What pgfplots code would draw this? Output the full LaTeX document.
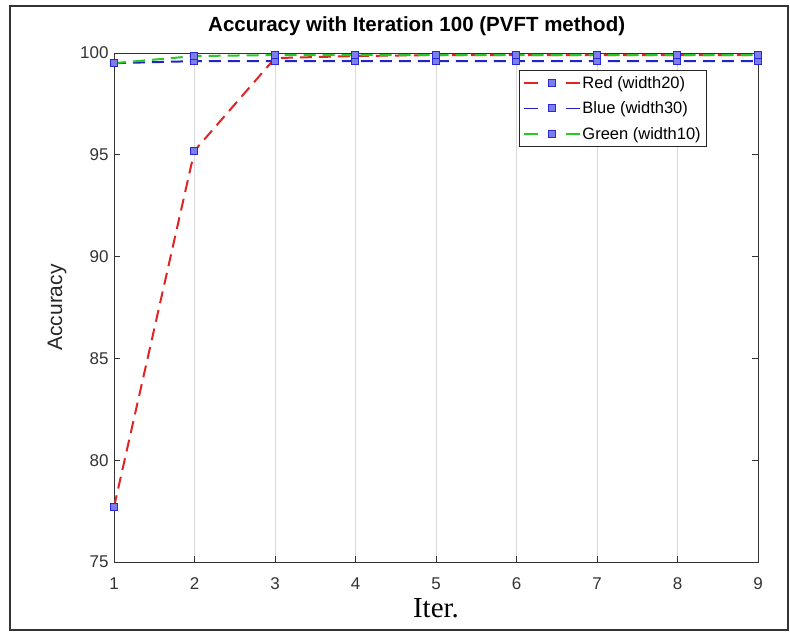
\documentclass[border=0pt]{standalone}
\usepackage{pgfplots}
\pgfplotsset{compat=1.18}
\usepackage{fontspec}
\setmainfont{Liberation Sans}
\newfontfamily\seriffont{Liberation Serif}
\definecolor{mred}{RGB}{225,35,35}
\definecolor{mblue}{RGB}{35,35,200}
\definecolor{mgreen}{RGB}{40,200,40}
\definecolor{mark}{RGB}{40,40,220}
\begin{document}
\begin{tikzpicture}
\begin{axis}[
  scale only axis,
  width=644pt, height=509pt,
  xmin=1, xmax=9, ymin=75, ymax=100,
  xtick={1,...,9}, ytick={75,80,...,100},
  xmajorgrids, grid style={black!15, line width=0.6pt},
  axis line style={black!80, line width=0.8pt},
  tick style={black!80, line width=0.8pt},
  tick align=inside, major tick length=6pt,
  clip=false,
  /pgf/number format/assume math mode=true,
  tick label style={font=\fontsize{17}{20}\selectfont, text=black!80},
  x tick label style={anchor=center, yshift=-22pt},
  y tick label style={xshift=-2pt},
  title={Accuracy with Iteration 100 (PVFT method)},
  title style={font=\fontsize{20.5}{24}\selectfont\bfseries, at={(axis description cs:0.47,1.04)}, anchor=center},
  xlabel={Iter.},
  xlabel style={font=\fontsize{29}{32}\selectfont\seriffont, at={(axis description cs:0.5,-0.09)}, anchor=center},
  ylabel={Accuracy},
  ylabel style={font=\fontsize{21}{24}\selectfont, text=black!85, at={(axis description cs:-0.0885,0.5)}, anchor=center},
  legend style={at={(axis description cs:0.921,0.967)}, anchor=north east,
    font=\fontsize{16.5}{19}\selectfont, draw=black!85, line width=0.8pt,
    row sep=8pt, inner xsep=4pt, inner ysep=4pt},
  legend cell align=left,
  legend image code/.code={\draw[mark repeat=2, mark phase=2, line width=1.5pt, dash pattern=on 14pt off 28pt] plot coordinates {(0pt,0pt) (28pt,0pt) (56pt,0pt)};},
  mystyle/.style={line width=2pt, dash pattern=on 12pt off 7pt,
    mark=square*, mark size=3.5pt, mark options={solid, draw=mark, fill=mark!60, line width=1pt}},
]
\addplot[mred, mystyle] coordinates {(1,77.7) (2,95.2) (3,99.75) (4,99.85) (5,99.9) (6,99.9) (7,99.9) (8,99.9) (9,99.9)};
\addlegendentry{Red (width20)}
\addplot[mblue, mystyle] coordinates {(1,99.5) (2,99.6) (3,99.6) (4,99.6) (5,99.6) (6,99.6) (7,99.6) (8,99.6) (9,99.6)};
\addlegendentry{Blue (width30)}
\addplot[mgreen, mystyle] coordinates {(1,99.5) (2,99.85) (3,99.9) (4,99.9) (5,99.9) (6,99.9) (7,99.9) (8,99.9) (9,99.9)};
\addlegendentry{Green (width10)}
\end{axis}
\draw[line width=2pt, black!80] (-104pt,-68pt) rectangle (674pt,556pt);
\pgfresetboundingbox
\path[use as bounding box] (-114pt,-70pt) rectangle (676pt,562pt);
\end{tikzpicture}
\end{document}
